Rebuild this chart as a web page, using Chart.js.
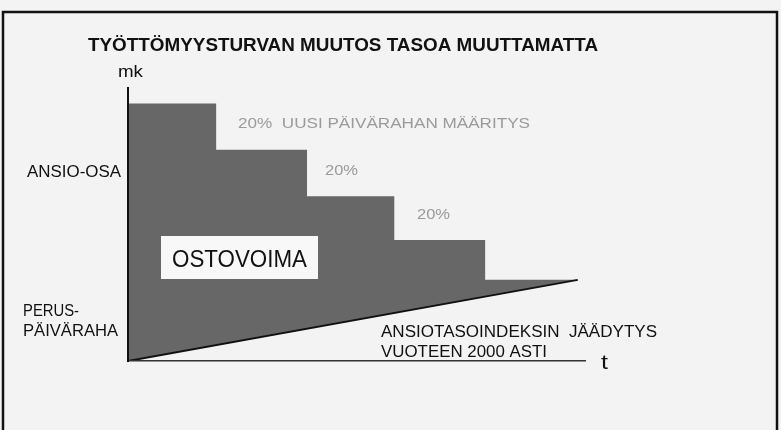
<!DOCTYPE html>
<html>
<head>
<meta charset="utf-8">
<script src="https://cdn.jsdelivr.net/npm/chart.js@4.4.1/dist/chart.umd.min.js"></script>
<style>
  html, body { margin: 0; padding: 0; background: #f3f3f3; }
  #wrap { width: 781px; height: 430px; }
</style>
</head>
<body>
<div id="wrap"><canvas id="stepChart" width="781" height="430"></canvas></div>
<script>
// staircase of the earnings-related part (start = 100)
const stepTimes = [0, 0.98, 1.99, 2.96, 3.97, 4.99];
const stepLevels = [100, 82, 64, 47, 31.5, 31.5];
// basic allowance, index frozen
const baseTimes = [0, 5];
const baseLevels = [0, 31.5];

const chartTitle = "TYÖTTÖMYYSTURVAN MUUTOS TASOA MUUTTAMATTA";
const sideLabels = ["ANSIO-OSA", "PERUS-", "PÄIVÄRAHA"];
const cutLabels = ["20%  UUSI PÄIVÄRAHAN MÄÄRITYS", "20%", "20%"];
const noteLines = ["ANSIOTASOINDEKSIN  JÄÄDYTYS", "VUOTEEN 2000 ASTI"];
const boxLabel = "OSTOVOIMA";

const PAPER = "#f3f3f3";
const INK = "#111111";
const FILL = "#676767";
const FAINT = "#9a9a9a";

const toPoints = (xs, ys) => xs.map((x, i) => ({ x: x, y: ys[i] }));

// draws text squeezed/stretched to a given width (the scan used a condensed face)
function fitText(ctx, text, left, baseline, width, font, color) {
    ctx.save();
    ctx.font = font;
    ctx.fillStyle = color;
    ctx.textAlign = "left";
    ctx.textBaseline = "alphabetic";
    const w = ctx.measureText(text).width;
    ctx.translate(left, baseline);
    ctx.scale(width / w, 1);
    ctx.fillText(text, 0, 0);
    ctx.restore();
}

const paperPlugin = {
    id: "paper",
    beforeDraw(chart) {
        const ctx = chart.ctx;
        ctx.save();
        ctx.fillStyle = PAPER;
        ctx.fillRect(0, 0, chart.width, chart.height);
        ctx.restore();
    },
    afterDatasetsDraw(chart) {
        const ctx = chart.ctx;
        ctx.save();
        ctx.fillStyle = "#f8f8f8";
        ctx.fillRect(161, 236, 157, 43);
        ctx.restore();
        fitText(ctx, boxLabel, 172, 267, 135, "23px 'Liberation Sans', Arial, sans-serif", INK);
    },
    afterDraw(chart) {
        const ctx = chart.ctx;
        const f = "'Liberation Sans', Arial, sans-serif";

        fitText(ctx, chartTitle, 88, 51, 510, "bold 18px " + f, INK);
        fitText(ctx, "mk", 118, 77, 25, "17px " + f, INK);
        fitText(ctx, "t", 601, 369, 7, "20px " + f, INK);

        fitText(ctx, sideLabels[0], 27, 177, 94, "16px " + f, INK);
        fitText(ctx, sideLabels[1], 23, 316, 56, "16px " + f, INK);
        fitText(ctx, sideLabels[2], 23, 336, 95, "16px " + f, INK);

        fitText(ctx, cutLabels[0], 238, 128, 292, "14px " + f, FAINT);
        fitText(ctx, cutLabels[1], 325, 175, 33, "14px " + f, FAINT);
        fitText(ctx, cutLabels[2], 417, 219, 33, "14px " + f, FAINT);

        fitText(ctx, noteLines[0], 381, 337, 276, "16px " + f, INK);
        fitText(ctx, noteLines[1], 381, 357, 166, "16px " + f, INK);

        // scanned page frame
        ctx.save();
        ctx.strokeStyle = INK;
        ctx.lineWidth = 2.5;
        ctx.strokeRect(3, 12, 774, 425);
        ctx.restore();
    }
};

new Chart(document.getElementById("stepChart"), {
    type: "line",
    data: {
        datasets: [
            {
                label: "Peruspäiväraha",
                data: toPoints(baseTimes, baseLevels),
                borderColor: INK,
                borderWidth: 2,
                backgroundColor: PAPER,
                fill: "origin",
                pointRadius: 0,
                tension: 0
            },
            {
                label: "Ansio-osa",
                data: toPoints(stepTimes, stepLevels),
                stepped: "before",
                borderColor: FILL,
                borderWidth: 0,
                backgroundColor: FILL,
                fill: "origin",
                pointRadius: 0
            }
        ]
    },
    options: {
        responsive: false,
        animation: false,
        devicePixelRatio: 1,
        layout: { padding: { left: 128, right: 196, top: 88, bottom: 69 } },
        plugins: {
            legend: { display: false },
            tooltip: { enabled: false },
            title: { display: false }
        },
        scales: {
            x: {
                type: "linear",
                min: 0,
                max: 5.08,
                ticks: { display: false },
                grid: { display: false, drawTicks: false },
                border: { display: true, color: "#333", width: 1.5, z: 1 }
            },
            y: {
                type: "linear",
                min: 0,
                max: 106,
                ticks: { display: false },
                grid: { display: false, drawTicks: false },
                border: { display: true, color: INK, width: 2, z: 1 }
            }
        }
    },
    plugins: [paperPlugin]
});
</script>
</body>
</html>
